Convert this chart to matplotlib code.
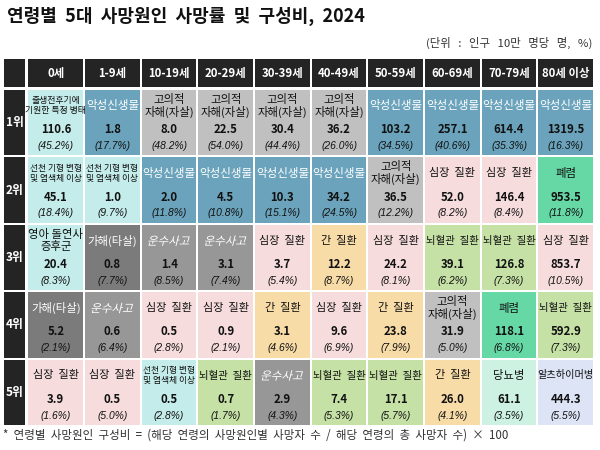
import matplotlib
matplotlib.use("Agg")
import matplotlib.pyplot as plt
from matplotlib.patches import Rectangle, PathPatch
from matplotlib.textpath import TextPath
from matplotlib.font_manager import FontProperties
from matplotlib.transforms import Affine2D, ScaledTranslation

plt.rcParams['font.family'] = ['Noto Sans CJK KR', 'DejaVu Sans']

title = '연령별 5대 사망원인 사망률 및 구성비, 2024'
unit_note = '(단위 : 인구 10만 명당 명, %)'
footnote = '* 연령별 사망원인 구성비 = (해당 연령의 사망원인별 사망자 수 / 해당 연령의 총 사망자 수) × 100'

ages = ['0세', '1-9세', '10-19세', '20-29세', '30-39세', '40-49세',
        '50-59세', '60-69세', '70-79세', '80세 이상']
ranks = ['1위', '2위', '3위', '4위', '5위']

causes_r1 = ['출생전후기에 기원한 특정 병태', '악성신생물', '고의적 자해(자살)', '고의적 자해(자살)',
             '고의적 자해(자살)', '고의적 자해(자살)', '악성신생물', '악성신생물', '악성신생물', '악성신생물']
rates_r1 = [110.6, 1.8, 8.0, 22.5, 30.4, 36.2, 103.2, 257.1, 614.4, 1319.5]
pcts_r1 = [45.2, 17.7, 48.2, 54.0, 44.4, 26.0, 34.5, 40.6, 35.3, 16.3]

causes_r2 = ['선천 기형 변형 및 염색체 이상', '선천 기형 변형 및 염색체 이상', '악성신생물', '악성신생물',
             '악성신생물', '악성신생물', '고의적 자해(자살)', '심장 질환', '심장 질환', '폐렴']
rates_r2 = [45.1, 1.0, 2.0, 4.5, 10.3, 34.2, 36.5, 52.0, 146.4, 953.5]
pcts_r2 = [18.4, 9.7, 11.8, 10.8, 15.1, 24.5, 12.2, 8.2, 8.4, 11.8]

causes_r3 = ['영아 돌연사 증후군', '가해(타살)', '운수사고', '운수사고', '심장 질환', '간 질환',
             '심장 질환', '뇌혈관 질환', '뇌혈관 질환', '심장 질환']
rates_r3 = [20.4, 0.8, 1.4, 3.1, 3.7, 12.2, 24.2, 39.1, 126.8, 853.7]
pcts_r3 = [8.3, 7.7, 8.5, 7.4, 5.4, 8.7, 8.1, 6.2, 7.3, 10.5]

causes_r4 = ['가해(타살)', '운수사고', '심장 질환', '심장 질환', '간 질환', '심장 질환',
             '간 질환', '고의적 자해(자살)', '폐렴', '뇌혈관 질환']
rates_r4 = [5.2, 0.6, 0.5, 0.9, 3.1, 9.6, 23.8, 31.9, 118.1, 592.9]
pcts_r4 = [2.1, 6.4, 2.8, 2.1, 4.6, 6.9, 7.9, 5.0, 6.8, 7.3]

causes_r5 = ['심장 질환', '심장 질환', '선천 기형 변형 및 염색체 이상', '뇌혈관 질환', '운수사고',
             '뇌혈관 질환', '뇌혈관 질환', '간 질환', '당뇨병', '알츠하이머병']
rates_r5 = [3.9, 0.5, 0.5, 0.7, 2.9, 7.4, 17.1, 26.0, 61.1, 444.3]
pcts_r5 = [1.6, 5.0, 2.8, 1.7, 4.3, 5.3, 5.7, 4.1, 3.5, 5.5]

causes = [causes_r1, causes_r2, causes_r3, causes_r4, causes_r5]
rates = [rates_r1, rates_r2, rates_r3, rates_r4, rates_r5]
pcts = [pcts_r1, pcts_r2, pcts_r3, pcts_r4, pcts_r5]

# style per cause: (displayed label, fill colour, label colour, label size, italic)
style = {
    '출생전후기에 기원한 특정 병태': ('출생전후기에\n기원한 특정 병태', '#c4ecea', '#111111', 6.4, False),
    '선천 기형 변형 및 염색체 이상': ('선천 기형 변형\n및 염색체 이상', '#c4ecea', '#111111', 6.3, False),
    '영아 돌연사 증후군': ('영아 돌연사\n증후군', '#c4ecea', '#111111', 8.2, False),
    '악성신생물': ('악성신생물', '#6aa3bb', '#ffffff', 8.3, False),
    '고의적 자해(자살)': ('고의적\n자해(자살)', '#c0c0c0', '#111111', 8.2, False),
    '가해(타살)': ('가해(타살)', '#7b7b7b', '#ffffff', 8.2, False),
    '운수사고': ('운수사고', '#979797', '#ffffff', 8.3, True),
    '심장 질환': ('심장  질환', '#f6dcdc', '#111111', 8.0, False),
    '간 질환': ('간  질환', '#f8dca8', '#111111', 8.0, False),
    '뇌혈관 질환': ('뇌혈관  질환', '#c6e1a6', '#111111', 7.5, False),
    '폐렴': ('폐렴', '#66d8a6', '#111111', 8.2, False),
    '당뇨병': ('당뇨병', '#cdf2e1', '#111111', 8.2, False),
    '알츠하이머병': ('알츠하이머병', '#dde4f6', '#111111', 7.3, False),
}
dark = '#242424'

W, H = 600, 450
fig = plt.figure(figsize=(6, 4.5), dpi=100)
fig.patch.set_facecolor('white')

# table body area in pixels
x0, x1, y0, y1 = 27.5, 594.0, 89.0, 426.0
ax = fig.add_axes([x0 / W, 1 - y1 / H, (x1 - x0) / W, (y1 - y0) / H])
ncol, nrow = len(ages), len(ranks)
ax.set_xlim(0, ncol)
ax.set_ylim(nrow, 0)
ax.axis('off')
pxx = ncol / (x1 - x0)
pxy = nrow / (y1 - y0)
gx, gy = 2 * pxx, 2 * pxy

head_top = (59 - y0) * pxy
lab_left = (4 - x0) * pxx

# header row
ax.add_patch(Rectangle((lab_left, head_top), -lab_left - gx, -head_top - gy,
                       facecolor=dark, edgecolor='none', clip_on=False))
for i, a in enumerate(ages):
    ax.add_patch(Rectangle((i + gx / 2, head_top), 1 - gx, -head_top - gy,
                           facecolor=dark, edgecolor='none', clip_on=False))
    ax.text(i + 0.5, (head_top - gy) / 2, a, color='white', fontsize=8.2, fontweight='bold',
            ha='center', va='center', clip_on=False)

# row labels
for j, r in enumerate(ranks):
    ax.add_patch(Rectangle((lab_left, j + gy / 2), -lab_left - gx, 1 - gy,
                           facecolor=dark, edgecolor='none', clip_on=False))
    ax.text((lab_left - gx) / 2, j + 0.5, r, color='white', fontsize=8.5, fontweight='bold',
            ha='center', va='center', clip_on=False)

kr_prop = FontProperties(family='Noto Sans CJK KR')
px_per_pt = fig.dpi / 72.0


def italic_label(x, y, s, size, color):
    tp = TextPath((0, 0), s, size=size, prop=kr_prop)
    bb = tp.get_extents()
    cx, cy = (bb.x0 + bb.x1) / 2, (bb.y0 + bb.y1) / 2
    tr = (Affine2D().translate(-cx, -cy).skew_deg(14, 0).scale(px_per_pt)
          + ScaledTranslation(x, y, ax.transData))
    ax.add_patch(PathPatch(tp, transform=tr, facecolor=color, edgecolor='none', clip_on=False))


for j in range(nrow):
    for i in range(ncol):
        c = causes[j][i]
        lab, fc, tc, fs, ital = style[c]
        ax.add_patch(Rectangle((i + gx / 2, j + gy / 2), 1 - gx, 1 - gy,
                               facecolor=fc, edgecolor='none'))
        if ital:
            italic_label(i + 0.5, j + 0.25, lab, fs, tc)
        else:
            ax.text(i + 0.5, j + 0.25, lab, color=tc, fontsize=fs, ha='center', va='center',
                    linespacing=1.1)
        ax.text(i + 0.5, j + 0.605, f'{rates[j][i]:.1f}', color='#111111', fontsize=8.2,
                fontweight='bold', ha='center', va='center')
        ax.text(i + 0.5, j + 0.845, f'({pcts[j][i]:.1f}%)', color='#111111', fontsize=7.4,
                style='italic', family=['Liberation Sans', 'DejaVu Sans'],
                ha='center', va='center')

fig.text(7 / W, 1 - 16 / H, title.replace(' ', '  '), fontsize=13, fontweight='bold',
         color='#111111', ha='left', va='center')
fig.text(592 / W, 1 - 43 / H, unit_note.replace(' ', '   '), fontsize=8.2, color='#333333',
         ha='right', va='center')
fig.text(3 / W, 1 - 435 / H, footnote.replace(' ', '  '), fontsize=8.3, color='#333333',
         ha='left', va='center')

fig.savefig('out.png', dpi=100, facecolor='white')
